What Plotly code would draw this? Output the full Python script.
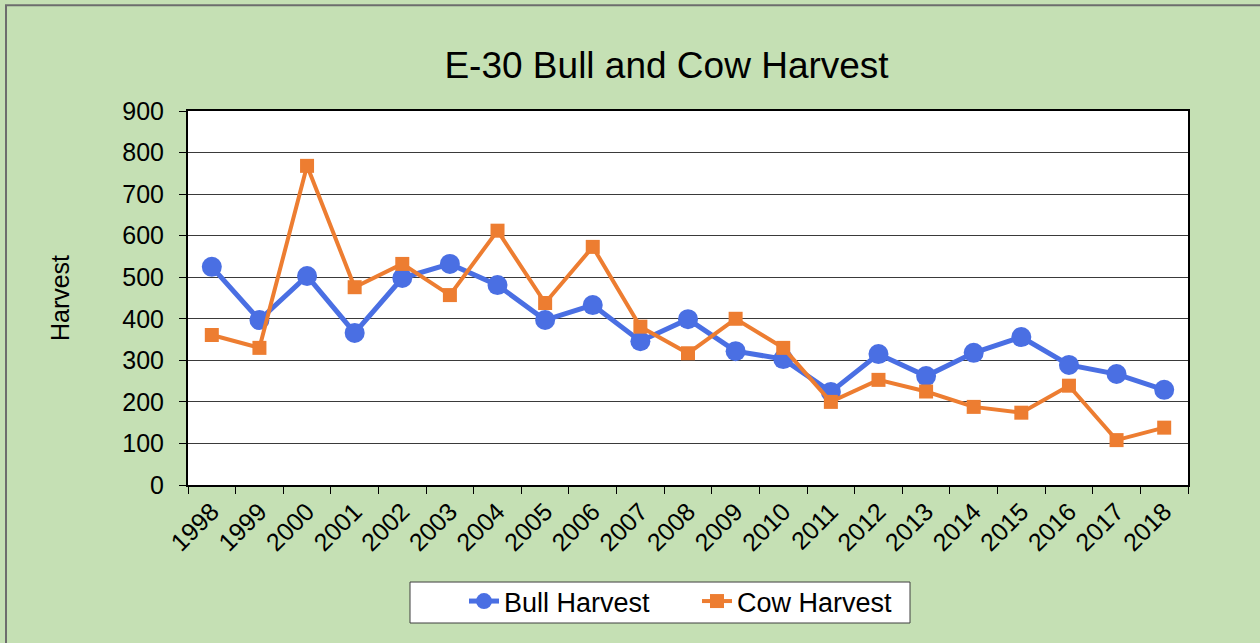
import plotly.graph_objects as go

years = [str(y) for y in range(1998, 2019)]
bull_harvest = [525, 397, 503, 366, 498, 532, 481, 397, 433, 346, 399,
                322, 303, 224, 315, 262, 318, 356, 289, 267, 229]
cow_harvest = [361, 330, 768, 476, 532, 457, 612, 438, 573, 381, 317,
               400, 330, 200, 253, 225, 188, 174, 239, 108, 138]

fig = go.Figure()

fig.add_trace(go.Scatter(
    x=years, y=bull_harvest, name="Bull Harvest", mode="lines+markers",
    line=dict(color="#4A6FE3", width=5),
    marker=dict(symbol="circle", size=20, color="#4A6FE3"),
))
fig.add_trace(go.Scatter(
    x=years, y=cow_harvest, name="Cow Harvest", mode="lines+markers",
    line=dict(color="#ED7D31", width=4),
    marker=dict(symbol="square", size=14, color="#ED7D31"),
))

# outer chart border (only left/top edges fall inside the picture)
fig.add_shape(type="rect", xref="paper", yref="paper",
              x0=-0.182, x1=1.2, y0=-0.8, y1=1.283,
              line=dict(color="#6d6d6d", width=2), layer="below")
# legend box
fig.add_shape(type="rect", xref="paper", yref="paper",
              x0=0.222, x1=0.722, y0=-0.369, y1=-0.2594,
              fillcolor="white", line=dict(color="#3f3f3f", width=1), layer="below")

fig.update_layout(
    width=1260, height=643,
    paper_bgcolor="#C5E0B4",
    plot_bgcolor="white",
    font=dict(family="Liberation Sans, Arial, sans-serif", color="black", size=25),
    title=dict(text="E-30 Bull and Cow Harvest", x=0.529, xanchor="center",
               y=0.899, yanchor="middle", font=dict(size=37)),
    margin=dict(l=188, r=72, t=111, b=158),
    legend=dict(orientation="h", x=0.276, xanchor="left", y=-0.246, yanchor="top",
                bgcolor="rgba(0,0,0,0)", borderwidth=0,
                font=dict(size=27), entrywidth=188, traceorder="normal"),
    showlegend=True,
)

fig.update_xaxes(
    type="category", range=[-0.5, 20.5], tickangle=-45, tickson="boundaries",
    ticks="outside", ticklen=7, tickcolor="black",
    showline=True, linecolor="black", linewidth=2, mirror=True,
    showgrid=False, tickfont=dict(size=25),
)
fig.update_yaxes(
    range=[0, 900], dtick=100, ticks="outside", ticklen=7, tickcolor="black",
    showline=True, linecolor="black", linewidth=2, mirror=True,
    showgrid=True, gridcolor="#3a3a3a", gridwidth=1,
    zeroline=False, ticklabelstandoff=10,
    title=dict(text="Harvest", font=dict(size=25), standoff=46),
    tickfont=dict(size=25),
)

fig.write_html("out.html", config={"displayModeBar": False},
               post_script="document.body.style.margin='0px';")
